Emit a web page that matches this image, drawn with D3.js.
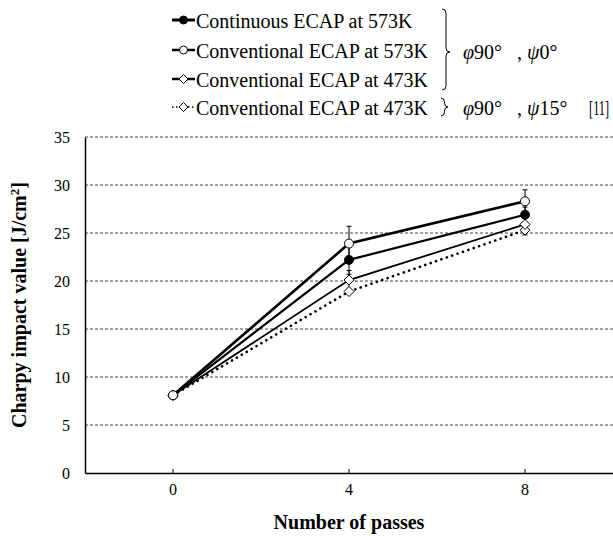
<!DOCTYPE html>
<html>
<head>
<meta charset="utf-8">
<script src="https://cdn.jsdelivr.net/npm/d3@7"></script>
<style>
  body { margin: 0; background: #fff; }
  svg text { font-family: "Liberation Serif", "Times New Roman", serif; fill: #000; }
</style>
</head>
<body>
<div id="chart"></div>
<script>
// data
const passes = ["0", "4", "8"];
const yTicks = [0, 5, 10, 15, 20, 25, 30, 35];
const continuous573 = [8.1, 22.2, 26.9];
const conventional573 = [8.1, 23.9, 28.3];
const conventional473 = [8.1, 20.1, 25.9];
const conventional473psi15 = [8.1, 18.9, 25.3];
const errContinuous573 = [0, 1.5, 0.8];
const errConventional573 = [0, 1.8, 1.2];
const errConventional473 = [0, 1.0, 1.1];
const seriesNames = ["Continuous ECAP at 573K", "Conventional ECAP at 573K",
                     "Conventional ECAP at 473K", "Conventional ECAP at 473K"];

const W = 613, H = 536;
const plotLeft = 85, plotRight = 613, plotTop = 137, plotBottom = 473;

const svg = d3.select("#chart").append("svg")
  .attr("width", W).attr("height", H)
  .attr("font-family", "Liberation Serif");

const x = d3.scaleBand().domain(passes).range([plotLeft, plotRight]);
const y = d3.scaleLinear().domain([0, 35]).range([plotBottom, plotTop]);
const cx = d => x(d) + x.bandwidth() / 2;

// gridlines
svg.append("g").selectAll("line")
  .data(yTicks.filter(d => d > 0))
  .enter().append("line")
  .attr("x1", plotLeft).attr("x2", plotRight)
  .attr("y1", d => y(d)).attr("y2", d => y(d))
  .attr("stroke", "#444").attr("stroke-width", 1)
  .attr("stroke-dasharray", "3,2");

// y axis
const yAxis = svg.append("g")
  .attr("transform", "translate(" + plotLeft + ",0)")
  .call(d3.axisLeft(y).tickValues(yTicks).tickSize(0).tickPadding(15))
  .attr("font-family", "Liberation Serif");
yAxis.select(".domain").attr("stroke", "#000").attr("stroke-width", 1.5);
yAxis.selectAll("text").attr("font-size", "16px");

// x axis
const xAxis = svg.append("g")
  .attr("transform", "translate(0," + plotBottom + ")")
  .call(d3.axisBottom(x).tickSizeInner(-4).tickSizeOuter(0).tickPadding(11))
  .attr("font-family", "Liberation Serif");
xAxis.select(".domain").attr("stroke", "#000").attr("stroke-width", 1.5);
xAxis.selectAll(".tick line").attr("stroke", "#000");
xAxis.selectAll("text").attr("font-size", "16px");

// axis titles
svg.append("text")
  .attr("x", 349).attr("y", 529)
  .attr("text-anchor", "middle")
  .attr("font-size", "20px").attr("font-weight", "bold")
  .text("Number of passes");

const yt = svg.append("text")
  .attr("transform", "translate(26,305) rotate(-90)")
  .attr("text-anchor", "middle")
  .attr("font-size", "20px").attr("font-weight", "bold");
yt.append("tspan").text("Charpy impact value [J/cm");
yt.append("tspan").attr("font-size", "13px").attr("dy", -7).text("2");
yt.append("tspan").attr("dy", 7).text("]");

// series
const series = [
  { vals: conventional473psi15, err: null, marker: "diamond", fill: "#fff", width: 2.6, dash: "0.1,5.6" },
  { vals: conventional473, err: errConventional473, marker: "diamond", fill: "#fff", width: 1.8, dash: null },
  { vals: continuous573, err: errContinuous573, marker: "circle", fill: "#000", width: 2.2, dash: null },
  { vals: conventional573, err: errConventional573, marker: "circle", fill: "#fff", width: 2.6, dash: null }
];

const line = d3.line().x((d, i) => cx(passes[i])).y(d => y(d));

series.forEach(s => {
  svg.append("path")
    .attr("d", line(s.vals))
    .attr("fill", "none").attr("stroke", "#000")
    .attr("stroke-width", s.width)
    .attr("stroke-linecap", s.dash ? "round" : "butt")
    .attr("stroke-dasharray", s.dash);
});

// error bars
series.filter(s => s.err).forEach(s => {
  const g = svg.append("g").attr("stroke", "#000").attr("stroke-width", 1);
  s.vals.forEach((v, i) => {
    if (!s.err[i]) return;
    const px = cx(passes[i]);
    g.append("line").attr("x1", px).attr("x2", px)
      .attr("y1", y(v + s.err[i])).attr("y2", y(v - s.err[i]));
    [v + s.err[i], v - s.err[i]].forEach(e => {
      g.append("line").attr("x1", px - 2.5).attr("x2", px + 2.5)
        .attr("y1", y(e)).attr("y2", y(e));
    });
  });
});

function diamondPath(px, py, r) {
  return "M" + px + "," + (py - r) + "L" + (px + r) + "," + py +
    "L" + px + "," + (py + r) + "L" + (px - r) + "," + py + "Z";
}

function drawMarker(g, type, fill, px, py, r) {
  if (type === "circle") {
    g.append("circle").attr("cx", px).attr("cy", py).attr("r", r)
      .attr("fill", fill).attr("stroke", "#000").attr("stroke-width", 1);
  } else {
    g.append("path").attr("d", diamondPath(px, py, r + 0.5))
      .attr("fill", fill).attr("stroke", "#000").attr("stroke-width", 1);
  }
}

series.forEach(s => {
  const g = svg.append("g");
  s.vals.forEach((v, i) => drawMarker(g, s.marker, s.fill, cx(passes[i]), y(v), 4.5));
});

// legend
const legendOrder = [
  { marker: "circle", fill: "#000", width: 3, dash: null },
  { marker: "circle", fill: "#fff", width: 2.5, dash: null },
  { marker: "diamond", fill: "#fff", width: 2.5, dash: null },
  { marker: "diamond", fill: "#fff", width: 1.5, dash: "1.5,2.5" }
];
const legendBase = [28, 58, 87, 115];

legendOrder.forEach((s, i) => {
  const g = svg.append("g");
  const ly = legendBase[i] - 8;
  g.append("line").attr("x1", 172).attr("x2", 195)
    .attr("y1", ly).attr("y2", ly)
    .attr("stroke", "#000").attr("stroke-width", s.width)
    .attr("stroke-dasharray", s.dash);
  drawMarker(g, s.marker, s.fill, 183.5, ly, 4);
  g.append("text").attr("x", 196).attr("y", legendBase[i])
    .attr("font-size", "20px").text(seriesNames[i]);
});

function brace(x0, y0, y1, ym, w) {
  const xm = x0 + w / 2, r = 4;
  return "M" + x0 + "," + y0 +
    "Q" + xm + "," + y0 + " " + xm + "," + (y0 + r) +
    "L" + xm + "," + (ym - r) +
    "Q" + xm + "," + ym + " " + (x0 + w) + "," + ym +
    "Q" + xm + "," + ym + " " + xm + "," + (ym + r) +
    "L" + xm + "," + (y1 - r) +
    "Q" + xm + "," + y1 + " " + x0 + "," + y1;
}

svg.append("path").attr("d", brace(442, 9, 90, 52, 8))
  .attr("fill", "none").attr("stroke", "#000").attr("stroke-width", 1);
svg.append("path").attr("d", brace(441, 98, 116, 107, 7))
  .attr("fill", "none").attr("stroke", "#000").attr("stroke-width", 1);

const angleRows = [
  { y: 59, a: "φ", b: "90°", d: "0°", ref: "" },
  { y: 115, a: "φ", b: "90°", d: "15°", ref: "[11]" }
];
angleRows.forEach(r => {
  const t1 = svg.append("text").attr("x", 463).attr("y", r.y).attr("font-size", "20px");
  t1.append("tspan").attr("font-style", "italic").text(r.a);
  t1.append("tspan").text(r.b);
  const t2 = svg.append("text").attr("x", 517).attr("y", r.y).attr("font-size", "20px");
  t2.append("tspan").text(", ");
  t2.append("tspan").attr("font-style", "italic").text("ψ");
  t2.append("tspan").text(r.d);
  if (r.ref) {
    svg.append("text")
      .attr("transform", "translate(589," + r.y + ") scale(0.62,1)")
      .attr("font-size", "20px")
      .text(r.ref);
  }
});
</script>
</body>
</html>
